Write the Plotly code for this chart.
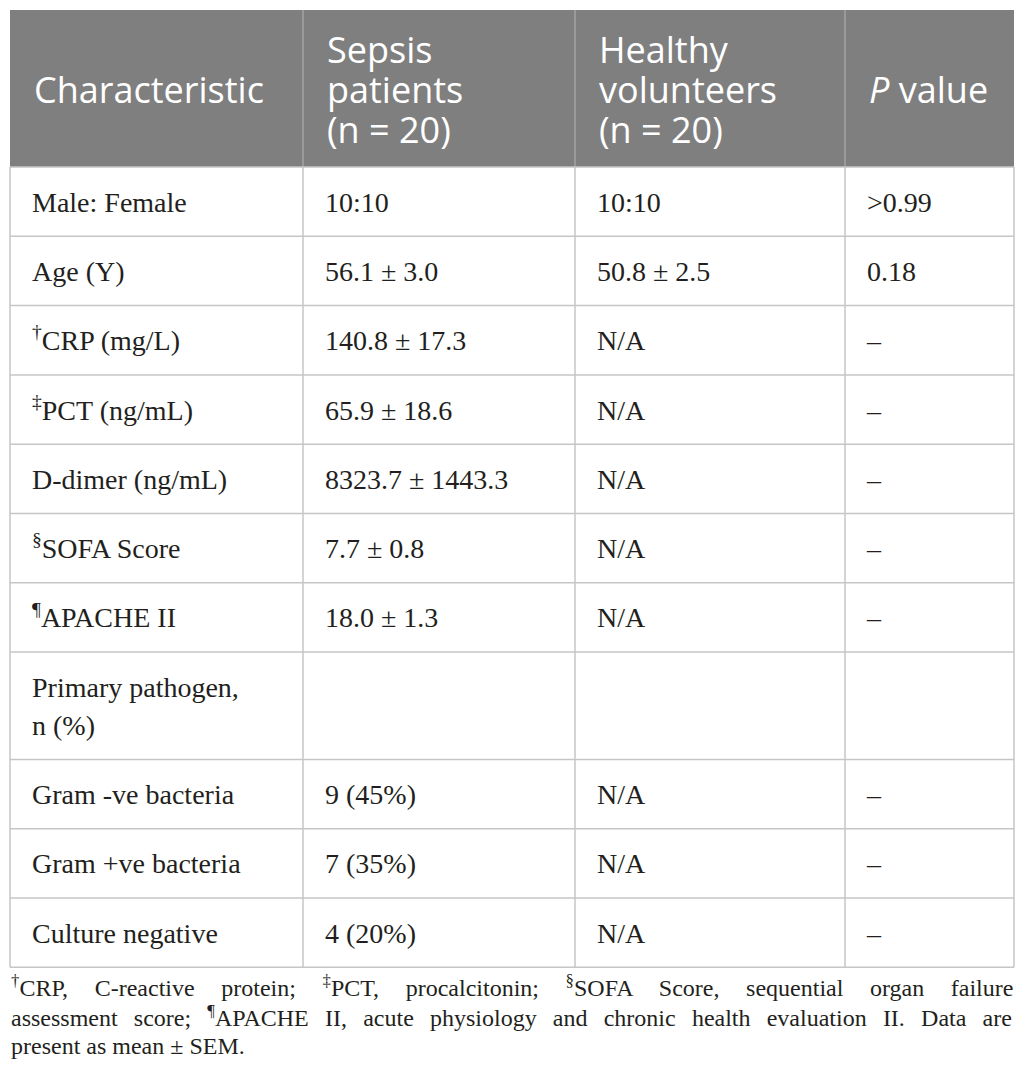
import plotly.graph_objects as go

# Tabelleninhalt
header_labels = ["Characteristic", "Sepsis<br>patients<br>(n = 20)",
                 "Healthy<br>volunteers<br>(n = 20)", "<i>P</i> value"]

characteristics = ["Male: Female", "Age (Y)", "<sup>†</sup>CRP (mg/L)", "<sup>‡</sup>PCT (ng/mL)",
                   "D-dimer (ng/mL)", "<sup>§</sup>SOFA Score", "<sup>¶</sup>APACHE II",
                   "Primary pathogen,<br>n (%)", "Gram -ve bacteria", "Gram +ve bacteria",
                   "Culture negative"]
sepsis = ["10:10", "56.1 ± 3.0", "140.8 ± 17.3", "65.9 ± 18.6", "8323.7 ± 1443.3",
          "7.7 ± 0.8", "18.0 ± 1.3", "", "9 (45%)", "7 (35%)", "4 (20%)"]
healthy = ["10:10", "50.8 ± 2.5", "N/A", "N/A", "N/A", "N/A", "N/A", "", "N/A", "N/A", "N/A"]
p_values = [">0.99", "0.18", "–", "–", "–", "–", "–", "", "–", "–", "–"]

footnote_lines = [
    "<sup>†</sup>CRP, C-reactive protein; <sup>‡</sup>PCT, procalcitonin; "
    "<sup>§</sup>SOFA Score, sequential organ failure",
    "assessment score; <sup>¶</sup>APACHE II, acute physiology and chronic health evaluation II. Data are",
    "present as mean ± SEM.",
]

# Layout (Pixel im Screenshot, Seite hat 8px Rand)
PAGE_MARGIN = 8
W, H = 1025 - 2 * PAGE_MARGIN, 1092 - 2 * PAGE_MARGIN
LEFT, TOP = 10, 10
COL_W = [293, 272, 270, 169]
HEADER_H = 157
ROW_H = 69.3
BODY_PITCH = 38    # Zeilenabstand im Körper
HEAD_PITCH = 40    # Zeilenabstand Kopfzeile
HEAD_INSET = 24
BODY_INSET = 22
HEAD_DY = 5        # optische Mitte Kopfzeile
BODY_DY = 3        # optische Mitte Zellen
FOOT_Y0, FOOT_PITCH = 985.5, 30
FOOT_SPACING = [20.6, 10.2, 0]  # Wortabstand für Blocksatz

columns = [characteristics, sepsis, healthy, p_values]
col_x = [LEFT]
for w in COL_W:
    col_x.append(col_x[-1] + w)
right = col_x[-1]

# Zeilenhöhen nach Anzahl Textzeilen
n_lines = [max(c[r].count("<br>") + 1 for c in columns) for r in range(len(characteristics))]
row_y = [TOP + HEADER_H]
for n in n_lines:
    row_y.append(row_y[-1] + ROW_H + (n - 1) * BODY_PITCH)
bottom = row_y[-1]

fig = go.Figure()

# Kopfzeile Hintergrund
fig.add_shape(type="rect", x0=LEFT, x1=right, y0=TOP, y1=TOP + HEADER_H,
              fillcolor="#7f7f7f", line_width=0, layer="below")
for x in col_x[1:-1]:
    fig.add_shape(type="line", x0=x, x1=x, y0=TOP, y1=TOP + HEADER_H,
                  line=dict(color="#a3a3a3", width=1.5))

# Gitterlinien
for y in row_y:
    fig.add_shape(type="line", x0=LEFT, x1=right, y0=y, y1=y,
                  line=dict(color="#c6c6c6", width=1.5))
for x in col_x:
    fig.add_shape(type="line", x0=x, x1=x, y0=TOP + HEADER_H, y1=bottom,
                  line=dict(color="#c6c6c6", width=1.5))

# Kopfzeilentext
hx, hy, ht = [], [], []
for j, lab in enumerate(header_labels):
    parts = lab.split("<br>")
    mid = TOP + HEADER_H / 2 + HEAD_DY
    for k, p in enumerate(parts):
        hx.append(col_x[j] + HEAD_INSET)
        hy.append(mid + (k - (len(parts) - 1) / 2) * HEAD_PITCH)
        ht.append(p)
fig.add_trace(go.Scatter(x=hx, y=hy, text=ht, mode="text", textposition="middle right",
                         textfont=dict(family="Open Sans", size=36, color="white"),
                         hoverinfo="skip", showlegend=False))

# Zellentext
bx, by, bt = [], [], []
for j, col in enumerate(columns):
    for r, val in enumerate(col):
        if not val:
            continue
        parts = val.split("<br>")
        mid = (row_y[r] + row_y[r + 1]) / 2 + BODY_DY
        for k, p in enumerate(parts):
            bx.append(col_x[j] + BODY_INSET)
            by.append(mid + (k - (len(parts) - 1) / 2) * BODY_PITCH)
            bt.append(p)
fig.add_trace(go.Scatter(x=bx, y=by, text=bt, mode="text", textposition="middle right",
                         textfont=dict(family="Liberation Serif", size=28, color="#231f20"),
                         hoverinfo="skip", showlegend=False))

# Fußnote (Blocksatz über Wortabstand)
for i, line in enumerate(footnote_lines):
    fig.add_annotation(
        text=f'<span style="word-spacing:{FOOT_SPACING[i]}px">{line}</span>',
        x=LEFT, y=FOOT_Y0 + i * FOOT_PITCH, xref="x", yref="y",
        xanchor="left", yanchor="middle", showarrow=False, borderpad=0,
        font=dict(family="Liberation Serif", size=24, color="#231f20"),
    )

fig.update_layout(
    width=W, height=H,
    margin=dict(l=0, r=0, t=0, b=0),
    paper_bgcolor="white", plot_bgcolor="white",
    xaxis=dict(range=[PAGE_MARGIN, PAGE_MARGIN + W], visible=False, fixedrange=True),
    yaxis=dict(range=[PAGE_MARGIN + H, PAGE_MARGIN], visible=False, fixedrange=True),
    showlegend=False,
)

fig.write_html("out.html")
